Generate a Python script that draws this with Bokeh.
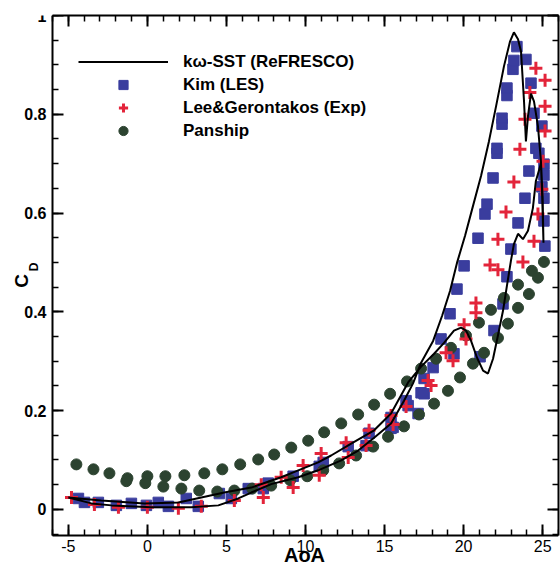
import math
from bokeh.plotting import figure
from bokeh.models import (Range1d, FixedTicker, LinearAxis, Legend, LegendItem, Label)
from bokeh.embed import file_html
from bokeh.resources import INLINE

# ---------------- data ----------------
x_ticks = [-5, 0, 5, 10, 15, 20, 25]
x_tick_labels = ["-5", "0", "5", "10", "15", "20", "25"]
y_ticks = [0, 0.2, 0.4, 0.6, 0.8, 1.0]
y_tick_labels = ["0", "0.2", "0.4", "0.6", "0.8", "1"]

# k-omega SST (ReFRESCO) hysteresis loop
sst_aoa = [-5.0, -3.54, -2.27, 0.25, 2.78, 4.49, 5.75, 6.57, 7.83, 9.54, 10.80, 12.26, 13.33,
           14.34, 15.41, 16.23, 16.80, 17.31, 18.07, 18.64, 19.14, 19.58, 20.09, 20.59, 21.10,
           21.60, 22.05, 22.55, 22.93, 23.18, 23.44, 23.63, 23.82, 23.94, 24.07, 24.26, 24.45,
           24.70, 24.89, 25.0, 25.05, 24.97, 24.89,
           24.57, 24.38, 24.07, 23.75, 23.44, 23.18, 22.99, 22.74, 22.49, 22.17, 21.86, 21.54,
           21.23, 20.85, 20.47, 20.15, 19.84, 19.39, 18.76, 18.13, 17.31, 16.49, 15.41, 14.34,
           12.89, 11.62, 10.80, 9.54, 8.46, 6.57, 4.86, 3.41, 1.96, -0.19, -2.91, -5.0]
sst_cd = [0.024, 0.012, 0.008, 0.004, 0.004, 0.008, 0.022, 0.034, 0.051, 0.065, 0.079, 0.099, 0.119,
          0.145, 0.174, 0.220, 0.255, 0.297, 0.341, 0.392, 0.442, 0.499, 0.554, 0.614, 0.675,
          0.745, 0.816, 0.897, 0.947, 0.966, 0.952, 0.927, 0.826, 0.745, 0.796, 0.842, 0.826,
          0.776, 0.705, 0.630, 0.540, 0.630, 0.700,
          0.665, 0.610, 0.564, 0.547, 0.558, 0.537, 0.503, 0.453, 0.402, 0.352, 0.305, 0.275,
          0.281, 0.307, 0.341, 0.362, 0.368, 0.362, 0.337, 0.315, 0.289, 0.257, 0.194, 0.160,
          0.133, 0.109, 0.095, 0.079, 0.065, 0.044, 0.034, 0.024, 0.014, 0.012, 0.018, 0.024]

# Kim (LES)
kim_aoa = [-4.36, -3.98, -3.10, -1.96, -1.01, -0.06, 0.69, 1.33, 2.46, 3.22, 4.55, 5.31, 6.38,
           7.33, 7.64, 9.22, 10.87, 11.12, 12.70, 13.83, 14.02, 15.41, 15.41, 15.54, 16.49, 16.36,
           17.12, 17.31, 17.50, 17.50,
           18.07, 18.57, 19.14, 19.58, 20.03, 20.91, 21.35, 21.48, 21.86, 22.11, 22.11, 22.43,
           22.43, 22.74, 22.74, 23.12, 23.18, 23.37,
           23.94, 24.26, 24.45, 24.95, 24.57, 24.76, 25.08, 25.08, 24.95, 25.08, 25.08, 25.14,
           24.13, 23.88, 23.44, 22.99, 22.74, 22.49, 21.92, 21.04, 19.39]
kim_cd = [0.022, 0.014, 0.014, 0.008, 0.012, 0.008, 0.014, 0.006, 0.022, 0.006, 0.032, 0.022, 0.042,
          0.042, 0.053, 0.067, 0.087, 0.095, 0.127, 0.129, 0.154, 0.164, 0.186, 0.166, 0.210, 0.220,
          0.194, 0.236, 0.265, 0.234,
          0.287, 0.345, 0.396, 0.446, 0.493, 0.549, 0.598, 0.618, 0.671, 0.721, 0.731, 0.780,
          0.792, 0.838, 0.853, 0.891, 0.909, 0.937,
          0.911, 0.863, 0.802, 0.776, 0.731, 0.721, 0.699, 0.677, 0.653, 0.630, 0.584, 0.533,
          0.685, 0.630, 0.580, 0.527, 0.471, 0.416, 0.362, 0.309, 0.315]

# Lee & Gerontakos (Exp)
lee_aoa = [-4.80, -3.35, -1.83, 0.0, 1.96, 3.41, 5.50, 7.33, 7.20, 8.46, 9.22, 9.85, 10.87,
           10.99, 12.70, 12.57, 13.83, 14.02, 15.54, 15.41, 16.36, 17.75, 17.94, 18.89, 19.33,
           20.03, 20.15, 20.78, 20.78, 21.67, 22.17, 23.75, 22.17, 22.68, 23.18, 23.56, 23.88,
           24.19, 24.57, 25.15, 25.15, 25.15, 25.02, 24.95, 24.70, 24.45]
lee_cd = [0.024, 0.010, 0.004, 0.004, 0.002, 0.006, 0.018, 0.024, 0.050, 0.065, 0.044, 0.089, 0.069,
          0.113, 0.105, 0.135, 0.129, 0.160, 0.172, 0.190, 0.208, 0.261, 0.251, 0.317, 0.301,
          0.374, 0.345, 0.418, 0.398, 0.495, 0.485, 0.501, 0.547, 0.602, 0.663, 0.729, 0.790,
          0.844, 0.893, 0.869, 0.816, 0.766, 0.705, 0.648, 0.598, 0.543]

# Panship
pan_aoa = [-4.49, -3.41, -2.40, -1.26, 0.0, 1.14, 2.34, 3.60, 4.74, 5.87, 7.01, 8.02, 9.10,
           10.17, 11.18, 12.26, 13.33, 14.34, 15.35, 16.42, 17.31, 18.26, 19.20, 20.15, 20.97,
           21.73, 22.55, 23.44, 24.32, 25.08,
           24.70, 24.13, 23.44, 22.80, 22.17, 21.29, 20.59, 19.77, 19.01, 18.13, 17.18, 16.23,
           15.22, 14.28, 13.20, 12.13, 11.12, 10.11, 9.03, 7.83, 6.63, 5.50, 4.42, 3.28, 2.15,
           1.01, -0.13, -1.33]
pan_cd = [0.091, 0.081, 0.073, 0.063, 0.067, 0.067, 0.069, 0.073, 0.081, 0.091, 0.101, 0.111, 0.125,
          0.139, 0.156, 0.174, 0.192, 0.212, 0.234, 0.259, 0.285, 0.305, 0.327, 0.352, 0.378,
          0.404, 0.428, 0.455, 0.483, 0.501,
          0.469, 0.436, 0.408, 0.376, 0.347, 0.317, 0.295, 0.267, 0.240, 0.214, 0.192, 0.168,
          0.147, 0.127, 0.109, 0.093, 0.079, 0.067, 0.059, 0.048, 0.042, 0.038, 0.036, 0.038, 0.042,
          0.046, 0.053, 0.057]

FONT = "Liberation Sans"
X_LO, X_HI = -6, 26          # visible axis box
Y_LO, Y_HI = -0.053, 1.0
PX_PER_X = 506 / (X_HI - X_LO)
PX_PER_Y = 520 / (Y_HI - Y_LO)
X_START = X_LO - 52 / PX_PER_X   # room for y tick labels and the C_D title
Y_START = Y_LO - 32 / PX_PER_Y   # room for x tick labels and the AoA title

p = figure(width=560, height=567, x_range=Range1d(X_START, X_HI), y_range=Range1d(Y_START, Y_HI),
           output_backend="svg", toolbar_location=None,
           min_border_left=0, min_border_right=2, min_border_top=15, min_border_bottom=0)
p.grid.visible = False
p.outline_line_color = None
p.background_fill_color = "white"
p.border_fill_color = "white"

bottom = p.below[0]
left = p.left[0]

x_minor = list(range(-6, 27))
y_minor = [round(-0.05 + 0.05 * i, 2) for i in range(22)]

top = LinearAxis()
right = LinearAxis()
p.add_layout(top, "above")
p.add_layout(right, "right")

left.fixed_location = X_LO
bottom.fixed_location = Y_LO

for ax in [bottom, top]:
    ax.ticker = FixedTicker(ticks=x_ticks, minor_ticks=x_minor)
    ax.bounds = (X_LO, X_HI)
for ax in [left, right]:
    ax.ticker = FixedTicker(ticks=y_ticks, minor_ticks=y_minor)
    ax.bounds = (Y_LO, Y_HI)

for ax in [bottom, left, top, right]:
    ax.axis_line_width = 2
    ax.axis_line_color = "black"
    ax.major_tick_in = 11
    ax.major_tick_out = 0
    ax.minor_tick_in = 6
    ax.minor_tick_out = 0
    ax.major_tick_line_width = 2
    ax.minor_tick_line_width = 1.5
    ax.major_tick_line_color = "black"
    ax.minor_tick_line_color = "black"

top.major_label_overrides = {t: "" for t in x_ticks}
right.major_label_overrides = {t: "" for t in y_ticks}
for ax in [top, right]:
    ax.major_label_text_font_size = "1px"
    ax.major_label_standoff = 0

bottom.major_label_overrides = dict(zip(x_ticks, x_tick_labels))
bottom.major_label_text_font = FONT
bottom.major_label_text_font_size = "16px"
bottom.major_label_text_color = "black"
bottom.major_label_standoff = 4

left.major_label_overrides = dict(zip(y_ticks, y_tick_labels))
left.major_label_text_font = FONT
left.major_label_text_font_style = "bold"
left.major_label_text_font_size = "16px"
left.major_label_text_color = "black"
left.major_label_standoff = 6

BLUE = "#3a3d9e"
RED = "#e3243a"
GREEN = "#2c4330"

r_kim = p.scatter(kim_aoa, kim_cd, marker="square", size=10.5, fill_color=BLUE, line_color=BLUE)
r_pan = p.scatter(pan_aoa, pan_cd, marker="circle", size=11, fill_color=GREEN, line_color=GREEN)
r_lee = p.scatter(lee_aoa, lee_cd, marker="cross", size=13, line_color=RED, line_width=3)
r_sst = p.line(sst_aoa, sst_cd, line_color="black", line_width=2)

legend = Legend(items=[
    LegendItem(label="kω-SST (ReFRESCO)", renderers=[r_sst]),
    LegendItem(label="Kim (LES)", renderers=[r_kim]),
    LegendItem(label="Lee&Gerontakos (Exp)", renderers=[r_lee]),
    LegendItem(label="Panship", renderers=[r_pan]),
], location=(78, 425), glyph_width=90, glyph_height=23, label_height=23, spacing=0,
   padding=0, margin=0, label_standoff=15,
   label_text_font=FONT, label_text_font_style="bold", label_text_font_size="17px",
   label_text_color="black", border_line_color=None, background_fill_alpha=0)
p.add_layout(legend)

# axis titles: C_D (C with subscript D) and AoA
c_x = X_START + 21 / PX_PER_X
d_x = X_START + 33 / PX_PER_X
p.add_layout(Label(x=c_x, y=0.4626, text="C",
                   angle=math.pi / 2, text_align="center", text_baseline="middle",
                   text_font=FONT, text_font_style="bold", text_font_size="19px", text_color="black"))
p.add_layout(Label(x=d_x, y=0.4909, text="D",
                   angle=math.pi / 2, text_align="center", text_baseline="middle",
                   text_font=FONT, text_font_style="bold", text_font_size="12px", text_color="black"))
aoa_x = X_START + 304 / PX_PER_X
aoa_y = Y_LO - (554 - 535) / PX_PER_Y
p.add_layout(Label(x=aoa_x, y=aoa_y, text="AoA", text_align="center", text_baseline="middle",
                   text_font=FONT, text_font_style="bold", text_font_size="20px", text_color="black"))

open("out.html", "w").write(file_html(p, INLINE))
